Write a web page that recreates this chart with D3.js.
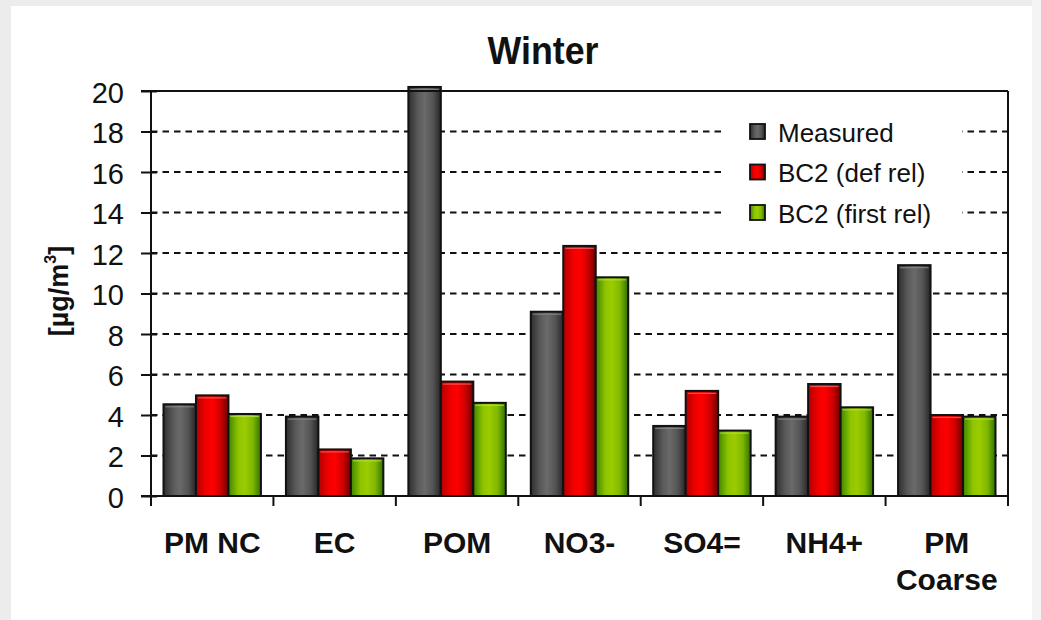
<!DOCTYPE html>
<html>
<head>
<meta charset="utf-8">
<script src="https://cdn.jsdelivr.net/npm/d3@7"></script>
<style>
  html, body { margin: 0; padding: 0; background: #fff; }
  svg { display: block; font-family: "Liberation Sans", Arial, sans-serif; }
</style>
</head>
<body>
<svg id="chart" width="1041" height="620"></svg>
<script>
// Winter concentrations per species, µg/m³
const categories = ["PM NC", "EC", "POM", "NO3-", "SO4=", "NH4+", "PM\nCoarse"];
const seriesNames = ["Measured", "BC2 (def rel)", "BC2 (first rel)"];
const measured = [4.53, 3.92, 20.2, 9.1, 3.46, 3.92, 11.4];
const bc2DefRel = [4.97, 2.3, 5.65, 12.35, 5.19, 5.53, 4.0];
const bc2FirstRel = [4.05, 1.86, 4.6, 10.8, 3.23, 4.38, 3.92];
const yTicks = [0, 2, 4, 6, 8, 10, 12, 14, 16, 18, 20];

const seriesValues = [measured, bc2DefRel, bc2FirstRel];
const rows = categories.map((c, i) => ({
  category: c,
  values: seriesNames.map((s, k) => ({ key: s, value: seriesValues[k][i] }))
}));

const svg = d3.select("#chart");
const W = 1041, H = 620;
const plotLeft = 151, plotRight = 1008, plotTop = 91, plotBottom = 496;

// page frame strips
svg.append("rect").attr("x", 0).attr("y", 0).attr("width", W).attr("height", H).attr("fill", "#fff");
svg.append("rect").attr("x", 0).attr("y", 0).attr("width", W).attr("height", 6).attr("fill", "#ececec");
svg.append("rect").attr("x", 0).attr("y", 0).attr("width", 11).attr("height", H).attr("fill", "#ececec");
svg.append("rect").attr("x", 1032).attr("y", 0).attr("width", 9).attr("height", H).attr("fill", "#f4f4f4");

// gradients for the shaded bars
const defs = svg.append("defs");
const palettes = [
  ["#2e2e2e", "#5a5a5a", "#6a6a6a", "#555", "#262626"],
  ["#b00000", "#f00000", "#ff0000", "#d00000", "#6e0000"],
  ["#3f8500", "#8ec400", "#9ccc00", "#7fb800", "#2f7000"]
];
palettes.forEach((p, k) => {
  const g = defs.append("linearGradient").attr("id", "grad" + k)
    .attr("x1", "0%").attr("x2", "100%").attr("y1", "0%").attr("y2", "0%");
  [0, 0.3, 0.5, 0.75, 1].forEach((o, j) =>
    g.append("stop").attr("offset", o).attr("stop-color", p[j]));
});
const highlight = ["#8a8a8a", "#ff6060", "#b8e040"];

const x0 = d3.scaleBand().domain(categories).range([plotLeft, plotRight]).padding(0);
const x1 = d3.scaleBand().domain(seriesNames).range([12.5, x0.bandwidth() - 12.5]).padding(0);
const y = d3.scaleLinear().domain([0, 20]).range([plotBottom, plotTop]);

// dashed gridlines
svg.append("g").selectAll("line")
  .data(yTicks.filter(t => t > 0 && t < 20))
  .join("line")
  .attr("x1", plotLeft).attr("x2", plotRight)
  .attr("y1", d => y(d)).attr("y2", d => y(d))
  .attr("stroke", "#111").attr("stroke-width", 2)
  .attr("stroke-dasharray", "6.5,5");

// legend backdrop
svg.append("rect").attr("x", 724).attr("y", 112).attr("width", 238).attr("height", 118).attr("fill", "#fff");

// bars
const groups = svg.append("g").selectAll("g")
  .data(rows).join("g")
  .attr("transform", d => `translate(${x0(d.category)},0)`);

groups.selectAll("rect.bar")
  .data(d => d.values).join("rect")
  .attr("class", "bar")
  .attr("x", d => x1(d.key))
  .attr("y", d => y(d.value))
  .attr("width", x1.bandwidth())
  .attr("height", d => y(0) - y(d.value))
  .attr("fill", d => `url(#grad${seriesNames.indexOf(d.key)})`)
  .attr("stroke", "#111").attr("stroke-width", 2);

groups.selectAll("line.hl")
  .data(d => d.values).join("line")
  .attr("class", "hl")
  .attr("x1", d => x1(d.key) + 2).attr("x2", d => x1(d.key) + x1.bandwidth() - 2)
  .attr("y1", d => y(d.value) + 2.5).attr("y2", d => y(d.value) + 2.5)
  .attr("stroke", d => highlight[seriesNames.indexOf(d.key)]).attr("stroke-width", 1.2)
  .attr("opacity", 0.8);

// frame: top and right borders
svg.append("line").attr("x1", 141).attr("x2", plotRight).attr("y1", plotTop).attr("y2", plotTop)
  .attr("stroke", "#111").attr("stroke-width", 2);
svg.append("line").attr("x1", plotRight).attr("x2", plotRight).attr("y1", plotTop).attr("y2", plotBottom + 10)
  .attr("stroke", "#111").attr("stroke-width", 2);

// y axis
const yAxis = d3.axisLeft(y).tickValues(yTicks).tickSize(0).tickFormat(d3.format("d"));
const gy = svg.append("g").attr("transform", `translate(${plotLeft},0)`).call(yAxis);
gy.select(".domain").remove();
gy.selectAll(".tick text")
  .attr("x", -27).attr("dy", null).attr("y", 11)
  .attr("font-size", 29).attr("fill", "#111")
  .attr("font-family", "'Liberation Sans', Arial, sans-serif");
gy.selectAll(".tick").append("line")
  .attr("x1", -10).attr("x2", 6).attr("y1", 0).attr("y2", 0)
  .attr("stroke", "#111").attr("stroke-width", 2);
svg.append("line").attr("x1", plotLeft).attr("x2", plotLeft).attr("y1", plotTop).attr("y2", plotBottom + 10)
  .attr("stroke", "#111").attr("stroke-width", 2);

// x axis with ticks at category boundaries
svg.append("line").attr("x1", 141).attr("x2", plotRight).attr("y1", plotBottom).attr("y2", plotBottom)
  .attr("stroke", "#111").attr("stroke-width", 2);
svg.append("g").selectAll("line")
  .data(categories.slice(1))
  .join("line")
  .attr("x1", d => x0(d)).attr("x2", d => x0(d))
  .attr("y1", plotBottom).attr("y2", plotBottom + 10)
  .attr("stroke", "#111").attr("stroke-width", 2);

// category labels
const labels = svg.append("g").selectAll("text")
  .data(categories).join("text")
  .attr("x", d => x0(d) + x0.bandwidth() / 2)
  .attr("y", 553)
  .attr("text-anchor", "middle")
  .attr("font-size", 30).attr("font-weight", "bold").attr("fill", "#111");
labels.selectAll("tspan")
  .data(d => d.split("\n").map(line => ({ line, x: x0(d) + x0.bandwidth() / 2 })))
  .join("tspan")
  .attr("x", d => d.x)
  .attr("dy", (d, i) => i === 0 ? 0 : 37)
  .text(d => d.line);

// title
svg.append("text").attr("x", 543).attr("y", 64).attr("text-anchor", "middle")
  .attr("font-size", 38).attr("font-weight", "bold").attr("fill", "#111")
  .attr("textLength", 111).attr("lengthAdjust", "spacingAndGlyphs")
  .text("Winter");

// y axis title
const yt = svg.append("text")
  .attr("transform", "translate(68,291) rotate(-90)")
  .attr("text-anchor", "middle")
  .attr("font-size", 27).attr("font-weight", "bold").attr("fill", "#111");
yt.append("tspan").text("[µg/m");
yt.append("tspan").attr("font-size", 16).attr("dy", -12).text("3");
yt.append("tspan").attr("dy", 12).text("]");

// legend
const legend = svg.append("g").selectAll("g")
  .data(seriesNames).join("g")
  .attr("transform", (d, i) => `translate(750,${y(18 - 2 * i)})`);
legend.append("rect")
  .attr("x", 0).attr("y", -7.5).attr("width", 15).attr("height", 15)
  .attr("fill", (d, i) => `url(#grad${i})`)
  .attr("stroke", "#111").attr("stroke-width", 1.8);
legend.append("text")
  .attr("x", 28).attr("y", 10)
  .attr("font-size", 26).attr("fill", "#111")
  .text(d => d);
</script>
</body>
</html>
